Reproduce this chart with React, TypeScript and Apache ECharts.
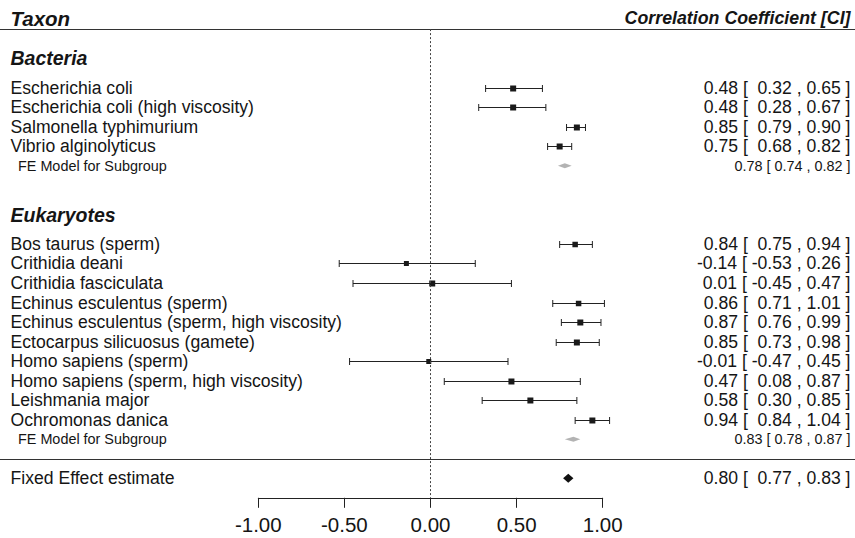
import React, { useEffect, useRef } from "react";
import * as echarts from "echarts";

// ---------- data ----------
const bacteriaNames = [
  "Escherichia coli",
  "Escherichia coli (high viscosity)",
  "Salmonella typhimurium",
  "Vibrio alginolyticus",
];
const bacteriaEst = [0.48, 0.48, 0.85, 0.75];
const bacteriaLo = [0.32, 0.28, 0.79, 0.68];
const bacteriaHi = [0.65, 0.67, 0.9, 0.82];
const bacteriaSize = [6, 6, 6, 6];

const eukaryoteNames = [
  "Bos taurus (sperm)",
  "Crithidia deani",
  "Crithidia fasciculata",
  "Echinus esculentus (sperm)",
  "Echinus esculentus (sperm, high viscosity)",
  "Ectocarpus silicuosus (gamete)",
  "Homo sapiens (sperm)",
  "Homo sapiens (sperm, high viscosity)",
  "Leishmania major",
  "Ochromonas danica",
];
const eukaryoteEst = [0.84, -0.14, 0.01, 0.86, 0.87, 0.85, -0.01, 0.47, 0.58, 0.94];
const eukaryoteLo = [0.75, -0.53, -0.45, 0.71, 0.76, 0.73, -0.47, 0.08, 0.3, 0.84];
const eukaryoteHi = [0.94, 0.26, 0.47, 1.01, 0.99, 0.98, 0.45, 0.87, 0.85, 1.04];
const eukaryoteSize = [5.5, 5, 6, 5.5, 6, 6, 5, 6, 6, 6];

const groupHeaders = ["Bacteria", "Eukaryotes"];
const subgroupLabel = "FE Model for Subgroup";
const subgroupEst = [0.78, 0.83];
const subgroupLo = [0.74, 0.78];
const subgroupHi = [0.82, 0.87];

const overallLabel = "Fixed Effect estimate";
const overallEst = [0.8];
const overallLo = [0.77];
const overallHi = [0.83];

const xTicks = [-1, -0.5, 0, 0.5, 1];
const headerLeft = "Taxon";
const headerRight = "Correlation Coefficient [CI]";

// ---------- row layout ----------
const bacteriaRows = bacteriaNames.map((_, i) => i); // 0..3
const subgroupRows = [bacteriaNames.length, bacteriaNames.length + 4 + eukaryoteNames.length]; // 4, 18
const eukaryoteRows = eukaryoteNames.map((_, i) => bacteriaNames.length + 4 + i); // 8..17
const headerRows = [-1.5, bacteriaNames.length + 2.5]; // -1.5, 6.5
const overallRow = subgroupRows[1] + 2; // 20
const ruleRows = [-3, subgroupRows[1] + 1];
const titleRow = -3.55;

const FONT = "'Liberation Sans', Arial, Helvetica, sans-serif";
const INK = "#151515";

const pad = (v: number) => (v < 0 ? v.toFixed(2) : " " + v.toFixed(2));
const studyText = (e: number, l: number, h: number) =>
  `${e.toFixed(2)} [ ${pad(l)} , ${h.toFixed(2)} ]`;
const feText = (e: number, l: number, h: number) =>
  `${e.toFixed(2)} [ ${l.toFixed(2)} , ${h.toFixed(2)} ]`;

// study rows
const studyData: number[][] = [];
bacteriaNames.forEach((_, i) =>
  studyData.push([bacteriaEst[i], bacteriaLo[i], bacteriaHi[i], bacteriaRows[i], bacteriaSize[i]])
);
eukaryoteNames.forEach((_, i) =>
  studyData.push([eukaryoteEst[i], eukaryoteLo[i], eukaryoteHi[i], eukaryoteRows[i], eukaryoteSize[i]])
);

// polygons: [est, lo, hi, row, height, kind(0 = subgroup, 1 = overall)]
const polyData: number[][] = [];
subgroupEst.forEach((_, i) =>
  polyData.push([subgroupEst[i], subgroupLo[i], subgroupHi[i], subgroupRows[i], 5, 0])
);
polyData.push([overallEst[0], overallLo[0], overallHi[0], overallRow, 9, 1]);

// text rows: kind: 0 header, 1 study, 2 subgroup, 3 overall, 4 title
type TextRow = { row: number; left: string; right: string; kind: number };
const textRows: TextRow[] = [];
textRows.push({ row: titleRow, left: headerLeft, right: headerRight, kind: 4 });
textRows.push({ row: headerRows[0], left: groupHeaders[0], right: "", kind: 0 });
bacteriaNames.forEach((n, i) =>
  textRows.push({
    row: bacteriaRows[i],
    left: n,
    right: studyText(bacteriaEst[i], bacteriaLo[i], bacteriaHi[i]),
    kind: 1,
  })
);
textRows.push({
  row: subgroupRows[0],
  left: subgroupLabel,
  right: feText(subgroupEst[0], subgroupLo[0], subgroupHi[0]),
  kind: 2,
});
textRows.push({ row: headerRows[1], left: groupHeaders[1], right: "", kind: 0 });
eukaryoteNames.forEach((n, i) =>
  textRows.push({
    row: eukaryoteRows[i],
    left: n,
    right: studyText(eukaryoteEst[i], eukaryoteLo[i], eukaryoteHi[i]),
    kind: 1,
  })
);
textRows.push({
  row: subgroupRows[1],
  left: subgroupLabel,
  right: feText(subgroupEst[1], subgroupLo[1], subgroupHi[1]),
  kind: 2,
});
textRows.push({
  row: overallRow,
  left: overallLabel,
  right: studyText(overallEst[0], overallLo[0], overallHi[0]),
  kind: 3,
});

const fontFor = (kind: number, side: "l" | "r") => {
  if (kind === 0) return { fontSize: 19.5, fontWeight: "bold" as const, fontStyle: "italic" as const };
  if (kind === 4)
    return side === "l"
      ? { fontSize: 20.5, fontWeight: "bold" as const, fontStyle: "italic" as const }
      : { fontSize: 17.8, fontWeight: "bold" as const, fontStyle: "italic" as const };
  if (kind === 2) return { fontSize: 14.4, fontWeight: "normal" as const, fontStyle: "normal" as const };
  return { fontSize: 17.6, fontWeight: "normal" as const, fontStyle: "normal" as const };
};

export default function App() {
  const ref = useRef<HTMLDivElement>(null);

  useEffect(() => {
    if (!ref.current) return;
    const chart = echarts.init(ref.current, null, { renderer: "svg" });

    const option: any = {
      animation: false,
      backgroundColor: "#ffffff",
      grid: { left: 258.3, right: 252.3, top: 29.1, bottom: 40.2 },
      xAxis: {
        type: "value",
        min: xTicks[0],
        max: xTicks[xTicks.length - 1],
        interval: xTicks[1] - xTicks[0],
        axisLine: { show: true, onZero: false, lineStyle: { color: "#222", width: 1 } },
        axisTick: { show: true, length: 10, inside: false, lineStyle: { color: "#222", width: 1 } },
        axisLabel: {
          formatter: (v: number) => v.toFixed(2),
          fontSize: 20.5,
          color: INK,
          fontFamily: FONT,
          margin: 16,
        },
        splitLine: { show: false },
      },
      yAxis: { type: "value", inverse: true, min: -3, max: 21, show: false },
      series: [
        {
          type: "custom",
          name: "rules",
          data: ruleRows.map((r) => [0, r]),
          encode: { x: 0, y: 1 },
          clip: false,
          silent: true,
          renderItem: (params: any, api: any) => {
            const y = Math.round(api.coord([0, api.value(1)])[1]) + 0.5;
            return {
              type: "line",
              shape: { x1: 0, y1: y, x2: api.getWidth(), y2: y },
              style: { stroke: "#333", lineWidth: 1.2 },
            };
          },
        },
        {
          type: "custom",
          name: "studies",
          data: studyData,
          encode: { x: [0, 1, 2], y: 3 },
          clip: false,
          renderItem: (params: any, api: any) => {
            const row = api.value(3);
            const pe = api.coord([api.value(0), row]);
            const pl = api.coord([api.value(1), row]);
            const ph = api.coord([api.value(2), row]);
            const s = api.value(4);
            const y = Math.round(pe[1]) + 0.5;
            const ls = { stroke: "#222", lineWidth: 1 };
            return {
              type: "group",
              children: [
                { type: "line", shape: { x1: pl[0], y1: y, x2: ph[0], y2: y }, style: ls },
                { type: "line", shape: { x1: pl[0], y1: y - 3.5, x2: pl[0], y2: y + 3.5 }, style: ls },
                { type: "line", shape: { x1: ph[0], y1: y - 3.5, x2: ph[0], y2: y + 3.5 }, style: ls },
                {
                  type: "rect",
                  shape: { x: pe[0] - s / 2, y: y - s / 2, width: s, height: s },
                  style: { fill: "#1a1a1a" },
                },
              ],
            };
          },
          markLine: {
            silent: true,
            symbol: ["none", "none"],
            label: { show: false },
            lineStyle: { type: [2, 2], color: "#444", width: 1 },
            data: [{ xAxis: 0 }],
          },
        },
        {
          type: "custom",
          name: "summaries",
          data: polyData,
          encode: { x: [0, 1, 2], y: 3 },
          clip: false,
          renderItem: (params: any, api: any) => {
            const row = api.value(3);
            const pe = api.coord([api.value(0), row]);
            const pl = api.coord([api.value(1), row]);
            const ph = api.coord([api.value(2), row]);
            const h = api.value(4);
            const y = pe[1];
            return {
              type: "polygon",
              shape: {
                points: [
                  [pl[0], y],
                  [pe[0], y - h / 2],
                  [ph[0], y],
                  [pe[0], y + h / 2],
                ],
              },
              style: { fill: api.value(5) === 1 ? "#111" : "#b3b3b3" },
            };
          },
        },
        {
          type: "custom",
          name: "texts",
          data: textRows.map((t) => [0, t.row]),
          encode: { x: 0, y: 1 },
          clip: false,
          silent: true,
          renderItem: (params: any, api: any) => {
            const t = textRows[params.dataIndex];
            const y = api.coord([0, t.row])[1];
            const w = api.getWidth();
            const children: any[] = [];
            const lf = fontFor(t.kind, "l");
            children.push({
              type: "text",
              x: t.kind === 2 ? 18 : 10.5,
              y,
              style: {
                text: t.left,
                fontFamily: FONT,
                ...lf,
                fill: INK,
                align: "left",
                verticalAlign: "middle",
              },
            });
            if (t.right) {
              const rf = fontFor(t.kind, "r");
              children.push({
                type: "text",
                x: w - 4.5,
                y,
                style: {
                  text: t.right,
                  fontFamily: FONT,
                  ...rf,
                  fill: INK,
                  align: "right",
                  verticalAlign: "middle",
                },
              });
            }
            return { type: "group", children };
          },
        },
      ],
    };

    chart.setOption(option);
    return () => chart.dispose();
  }, []);

  return (
    <div
      ref={ref}
      style={{ position: "fixed", left: 0, top: 0, width: 855, height: 538, background: "#fff" }}
    />
  );
}
